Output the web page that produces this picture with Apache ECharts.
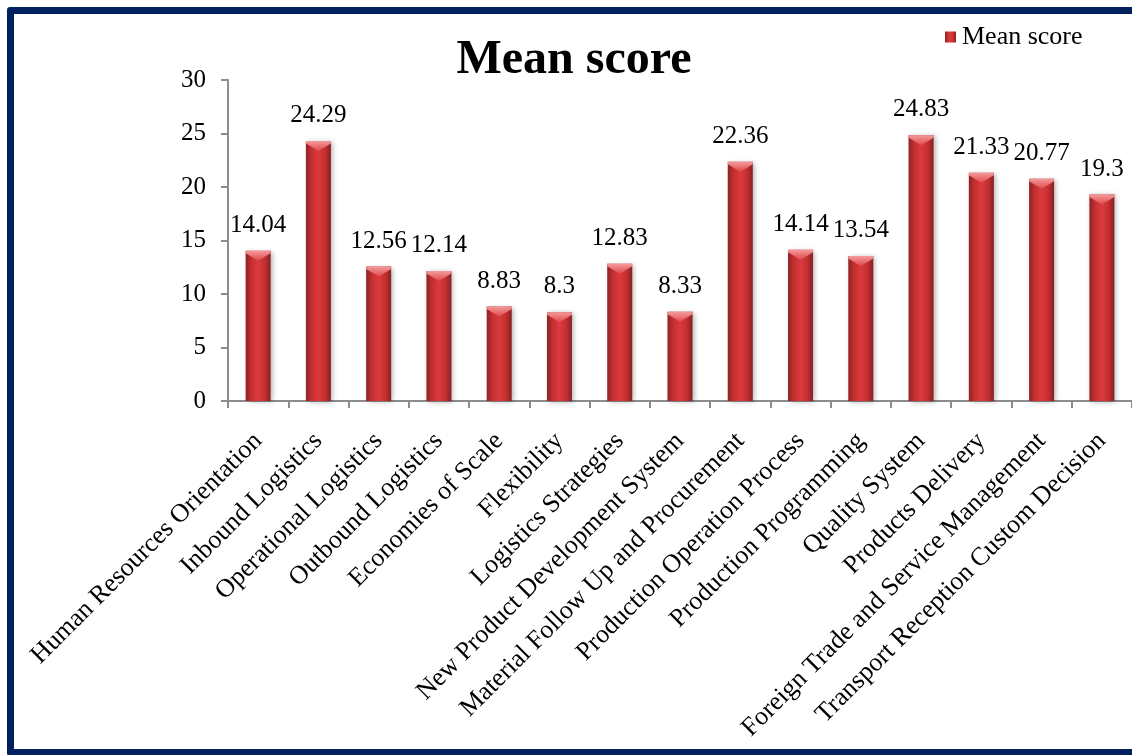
<!DOCTYPE html>
<html>
<head>
<meta charset="utf-8">
<script src="https://cdn.jsdelivr.net/npm/echarts@6/dist/echarts.min.js"></script>
<style>
  html, body { margin: 0; padding: 0; background: #ffffff; overflow: hidden; }
  #chart { position: absolute; left: 0; top: 0; width: 1132px; height: 755px; }
  #frame {
    position: absolute; left: 7px; top: 7px; width: 1150px; height: 749px;
    box-sizing: border-box; border: 7px solid #00215e; border-radius: 3px;
    pointer-events: none;
  }
</style>
</head>
<body>
<div id="chart"></div>
<div id="frame"></div>
<script>
// Mean score per logistics factor
const categories = [
  'Human Resources Orientation',
  'Inbound Logistics',
  'Operational Logistics',
  'Outbound Logistics',
  'Economies of Scale',
  'Flexibility',
  'Logistics Strategies',
  'New Product Development System',
  'Material Follow Up and Procurement',
  'Production Operation Process',
  'Production Programming',
  'Quality System',
  'Products Delivery',
  'Foreign Trade and Service Management',
  'Transport Reception Custom Decision'
];
const meanScore = [14.04, 24.29, 12.56, 12.14, 8.83, 8.3, 12.83, 8.33, 22.36, 14.14, 13.54, 24.83, 21.33, 20.77, 19.3];
const yTicks = [0, 5, 10, 15, 20, 25, 30];

const serif = '"Liberation Serif", "Times New Roman", serif';

// bar body: dark edges, bright centre
const barFill = new echarts.graphic.LinearGradient(0, 0, 1, 0, [
  { offset: 0, color: '#8e2224' },
  { offset: 0.22, color: '#c22f30' },
  { offset: 0.5, color: '#dc3a3d' },
  { offset: 0.78, color: '#c22f30' },
  { offset: 1, color: '#862022' }
]);
// bevelled cap on top of each bar
const capFill = new echarts.graphic.LinearGradient(0, 0, 0, 1, [
  { offset: 0, color: '#f49a9b' },
  { offset: 1, color: '#e0494c' }
]);

const chart = echarts.init(document.getElementById('chart'), null, { renderer: 'canvas' });
chart.setOption({
  animation: false,
  backgroundColor: '#ffffff',
  title: {
    text: 'Mean score',
    left: 569,
    textAlign: 'center',
    top: 32,
    textStyle: { fontFamily: serif, fontSize: 48, fontWeight: 'bold', color: '#000' }
  },
  legend: {
    data: ['Mean score'],
    left: 940,
    top: 19,
    icon: 'rect',
    itemWidth: 11,
    itemHeight: 11,
    itemGap: 6,
    textStyle: { fontFamily: serif, fontSize: 26, color: '#000', padding: [0, 0, 0, 1] }
  },
  grid: { left: 228, top: 80, width: 907, height: 321 },
  xAxis: {
    type: 'category',
    data: categories,
    boundaryGap: true,
    axisLine: { lineStyle: { color: '#8c8c8c', width: 2 } },
    axisTick: { show: true, alignWithLabel: false, length: 7, lineStyle: { color: '#8c8c8c', width: 2 } },
    axisLabel: {
      interval: 0,
      rotate: 45,
      margin: 36,
      fontFamily: serif,
      fontSize: 26,
      color: '#000'
    }
  },
  yAxis: {
    type: 'value',
    min: yTicks[0],
    max: yTicks[yTicks.length - 1],
    interval: 5,
    splitLine: { show: false },
    axisLine: { show: true, lineStyle: { color: '#8c8c8c', width: 2 } },
    axisTick: { show: true, length: 7, lineStyle: { color: '#8c8c8c', width: 2 } },
    axisLabel: { fontFamily: serif, fontSize: 25, color: '#000', margin: 22 }
  },
  series: [{
    name: 'Mean score',
    type: 'bar',
    data: meanScore,
    barWidth: 25,
    itemStyle: {
      color: barFill,
      shadowColor: 'rgba(0,0,0,0.3)',
      shadowBlur: 5,
      shadowOffsetX: 2,
      shadowOffsetY: 1
    },
    label: {
      show: true,
      position: 'top',
      distance: 13,
      fontFamily: serif,
      fontSize: 25,
      color: '#000'
    },
    z: 2
  }, {
    name: 'cap',
    type: 'pictorialBar',
    data: meanScore,
    symbol: 'path://M0,0 L10,0 L10,1 L5,4 L0,1 Z',
    symbolSize: [25, 10],
    symbolPosition: 'end',
    symbolOffset: [0, 0],
    itemStyle: { color: capFill },
    silent: true,
    tooltip: { show: false },
    z: 3
  }]
});
</script>
</body>
</html>
